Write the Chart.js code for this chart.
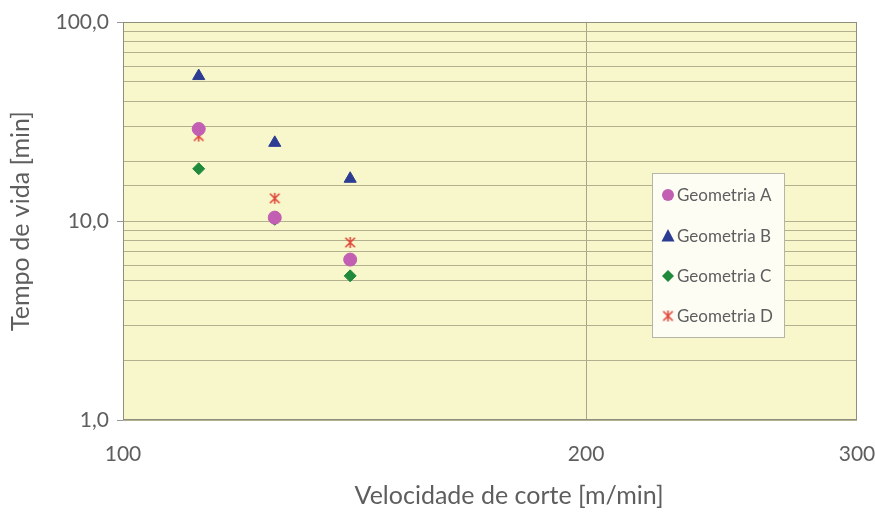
<!DOCTYPE html>
<html>
<head>
<meta charset="utf-8">
<script src="https://cdn.jsdelivr.net/npm/chart.js@4.4.0/dist/chart.umd.min.js"></script>
<style>
  html, body { margin: 0; padding: 0; background: #fff; }
  #wrap { width: 875px; height: 515px; }
</style>
</head>
<body>
<div id="wrap"><canvas id="chart" width="875" height="515"></canvas></div>
<script>
const velocidades = [112, 125.5, 140.5];
const geometriaA = [29.0, 10.4, 6.4];
const geometriaB = [53.5, 24.7, 16.3];
const geometriaC = [18.3, 10.2, 5.3];
const geometriaD = [26.7, 13.0, 7.8];
const seriesNames = ['Geometria A', 'Geometria B', 'Geometria C', 'Geometria D'];
const yLabels = [1, 10, 100];
const xLabels = [100, 200, 300];
const xTitle = 'Velocidade de corte [m/min]';
const yTitle = 'Tempo de vida [min]';

const FONT = 'Lato, "DejaVu Sans", sans-serif';
const TEXT = '#5e5e5e';

// asterisk marker: an X with a vertical bar through it
function makeAsterisk(color, size) {
    const c = document.createElement('canvas');
    c.width = size; c.height = size;
    const g = c.getContext('2d');
    const m = size / 2, r = size / 2 - 1.5;
    g.strokeStyle = color;
    g.lineWidth = 1.6;
    g.beginPath();
    g.moveTo(m - r * 0.8, m - r * 0.8); g.lineTo(m + r * 0.8, m + r * 0.8);
    g.moveTo(m + r * 0.8, m - r * 0.8); g.lineTo(m - r * 0.8, m + r * 0.8);
    g.moveTo(m, m - r * 0.9); g.lineTo(m, m + r * 0.9);
    g.stroke();
    return c;
}
const asterisk = makeAsterisk('#e0473b', 15);

function pts(ys) {
    return velocidades.map((v, i) => ({ x: v, y: ys[i] }));
}

const plotBg = {
    id: 'plotBg',
    beforeDraw(chart) {
        const a = chart.chartArea, ctx = chart.ctx;
        ctx.save();
        ctx.fillStyle = '#f8f7cb';
        ctx.fillRect(a.left, a.top, a.right - a.left, a.bottom - a.top);
        ctx.restore();
    },
    afterDatasetsDraw(chart) {
        const a = chart.chartArea, ctx = chart.ctx;
        ctx.save();
        ctx.strokeStyle = '#8f8f80';
        ctx.lineWidth = 1;
        ctx.strokeRect(a.left + 0.5, a.top + 0.5, a.right - a.left - 1, a.bottom - a.top - 1);
        // x axis title sits a little right of the plot centre in the original
        ctx.fillStyle = TEXT;
        ctx.font = '25px ' + FONT;
        ctx.textAlign = 'center';
        ctx.textBaseline = 'middle';
        ctx.fillText(xTitle, a.left + (a.right - a.left) * 0.526, 496);
        ctx.restore();
    }
};

const boxLegend = {
    id: 'boxLegend',
    afterDraw(chart) {
        const ctx = chart.ctx;
        const x = 652, y = 173, w = 132, h = 164;
        ctx.save();
        ctx.fillStyle = '#fdfdf4';
        ctx.fillRect(x, y, w, h);
        ctx.strokeStyle = '#b5b5a8';
        ctx.lineWidth = 1;
        ctx.strokeRect(x + 0.5, y + 0.5, w, h);
        const rows = [195, 236, 276, 316];
        ctx.font = '17px ' + FONT;
        ctx.textBaseline = 'middle';
        chart.data.datasets.forEach((ds, i) => {
            const cy = rows[i], cx = 668;
            ctx.fillStyle = ds.backgroundColor;
            ctx.beginPath();
            if (ds.pointStyle === 'circle') {
                ctx.arc(cx, cy, 6, 0, Math.PI * 2);
                ctx.fill();
            } else if (ds.pointStyle === 'triangle') {
                ctx.moveTo(cx, cy - 7); ctx.lineTo(cx + 6.5, cy + 5.5); ctx.lineTo(cx - 6.5, cy + 5.5);
                ctx.closePath(); ctx.fill();
            } else if (ds.pointStyle === 'rectRot') {
                ctx.moveTo(cx, cy - 6); ctx.lineTo(cx + 6, cy); ctx.lineTo(cx, cy + 6); ctx.lineTo(cx - 6, cy);
                ctx.closePath(); ctx.fill();
            } else {
                ctx.drawImage(asterisk, cx - 7.5, cy - 7.5);
            }
            ctx.fillStyle = TEXT;
            ctx.fillText(ds.label, 677, cy + 1);
        });
        ctx.restore();
    }
};

new Chart(document.getElementById('chart'), {
    type: 'scatter',
    data: {
        datasets: [
            { label: seriesNames[0], data: pts(geometriaA), pointStyle: 'circle', pointRadius: 6.5,
              backgroundColor: '#c25fb3', borderColor: '#c25fb3' },
            { label: seriesNames[1], data: pts(geometriaB), pointStyle: 'triangle', pointRadius: 7,
              backgroundColor: '#2c3c92', borderColor: '#2c3c92' },
            { label: seriesNames[2], data: pts(geometriaC), pointStyle: 'rectRot', pointRadius: 6,
              backgroundColor: '#1f8a3b', borderColor: '#1f8a3b' },
            { label: seriesNames[3], data: pts(geometriaD), pointStyle: asterisk, pointRadius: 7,
              backgroundColor: '#e0473b', borderColor: '#e0473b' }
        ]
    },
    options: {
        responsive: false,
        animation: false,
        layout: { padding: { left: 0, right: 18, top: 22, bottom: 0 } },
        plugins: {
            legend: { display: false },
            tooltip: { enabled: false }
        },
        scales: {
            x: {
                type: 'logarithmic',
                min: 100, max: 300,
                afterBuildTicks(scale) { scale.ticks = xLabels.map(v => ({ value: v })); },
                afterFit(scale) {
                    scale.height = 95;
                    scale.paddingLeft = 0;
                    scale.paddingRight = 0;
                },
                grid: { color: '#a8a58a', drawTicks: false, lineWidth: (c) => (c.tick && c.tick.value === 200 ? 1 : 0) },
                border: { display: false },
                ticks: {
                    padding: 22,
                    color: TEXT,
                    font: { family: FONT, size: 21 },
                    maxRotation: 0,
                    callback: (v) => String(v)
                }
            },
            y: {
                type: 'logarithmic',
                min: 1, max: 100,
                afterFit(scale) { scale.width = 123; },
                grid: {
                    color: '#b3b08f',
                    tickLength: 6,
                    drawTicks: true,
                    tickColor: (c) => (yLabels.includes(c.tick.value) ? '#999' : 'rgba(0,0,0,0)')
                },
                border: { display: false },
                ticks: {
                    padding: 8,
                    color: TEXT,
                    font: { family: FONT, size: 21 },
                    autoSkip: false,
                    callback: (v) => (yLabels.includes(v) ? v.toFixed(1).replace('.', ',') : '')
                },
                title: {
                    display: true,
                    text: yTitle,
                    color: TEXT,
                    font: { family: FONT, size: 25 },
                    padding: { top: 6, bottom: 0 }
                }
            }
        }
    },
    plugins: [plotBg, boxLegend]
});
</script>
</body>
</html>
